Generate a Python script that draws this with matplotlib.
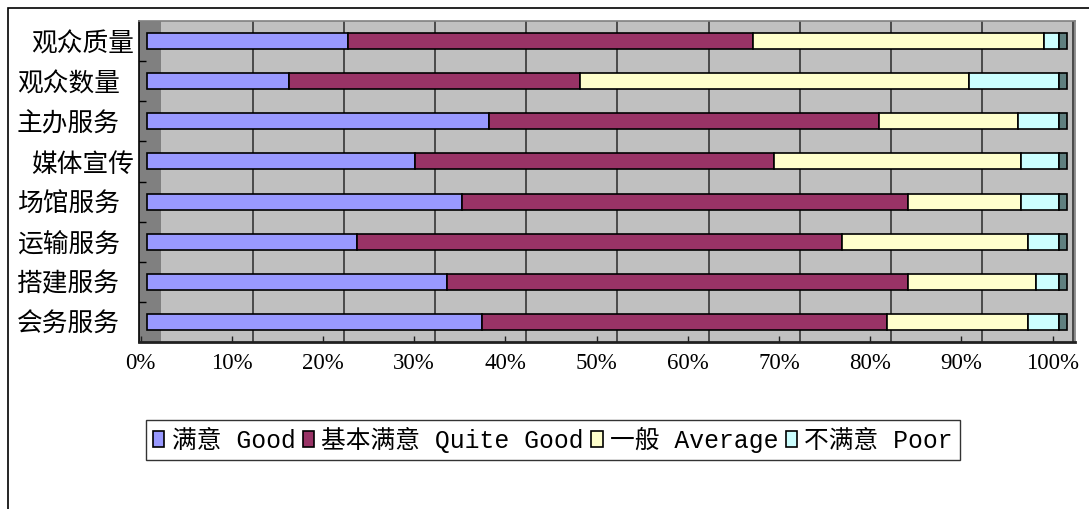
import matplotlib.pyplot as plt
import matplotlib.patches as mpatches
import matplotlib.transforms as mtransforms
from matplotlib.ticker import FixedLocator
import numpy as np

# categories from top to bottom
categories = ['观众质量', '观众数量', '主办服务', '媒体宣传',
              '场馆服务', '运输服务', '搭建服务', '会务服务']
good = [22.1, 15.6, 37.5, 29.4, 34.5, 23.0, 32.9, 36.8]
quite_good = [44.4, 31.9, 42.8, 39.4, 49.0, 53.2, 50.6, 44.4]
average = [31.9, 42.6, 15.2, 27.1, 12.4, 20.4, 14.0, 15.4]
poor = [1.6, 9.9, 4.5, 4.1, 4.1, 3.4, 2.5, 3.4]
series_names = ['满意 Good', '基本满意 Quite Good', '一般 Average', '不满意 Poor']
tick_labels = ['0%', '10%', '20%', '30%', '40%', '50%', '60%', '70%', '80%', '90%', '100%']

colors = ['#9999FF', '#993366', '#FFFFCC', '#CCFFFF']
cjk = 'Noto Sans CJK SC'

W, H = 1089, 509
fig = plt.figure(figsize=(W / 100, H / 100), dpi=100)

# outer chart frame (only top and left edges visible)
fig.patches.append(mpatches.Rectangle((8 / W, -0.5), 2.0, 1 - 8 / H + 0.5,
                                      transform=fig.transFigure, fill=False,
                                      edgecolor='black', linewidth=1.2))

# plot area in pixels
left, right, top, bottom = 139, 1075, 21, 342
ax = fig.add_axes([left / W, 1 - bottom / H, (right - left) / W, (bottom - top) / H])

x0 = 140.5            # pixel of 0%
scale = 912.0          # pixels per 100%
ax.set_xlim((left - x0) / scale, (right - x0) / scale)
ax.set_ylim(len(categories) - 0.5, -0.5)

depth = 0.023          # back wall offset
bar_shift = 0.007
side = 0.009

ax.set_facecolor('#C0C0C0')
ax.axvspan((left - x0) / scale, depth, color='#808080', zorder=0.5, linewidth=0)
for k in range(1, 11):
    ax.axvline(k / 10 + depth, color='#404040', linewidth=1.3, zorder=1)

data = np.array([good, quite_good, average, poor])
fracs = data / data.sum(axis=0)
y = np.arange(len(categories))
cum = np.zeros(len(categories)) + bar_shift
for vals, name, c in zip(fracs, series_names, colors):
    ax.barh(y, vals, left=cum, height=0.4, color=c, edgecolor='black',
            linewidth=1.2, label=name, zorder=3)
    cum = cum + vals
# 3D end face of the bars
ax.barh(y, side, left=cum, height=0.4, color='#5F7F7F', edgecolor='black',
        linewidth=1.2, zorder=3)

# x axis
ax.set_xticks(np.arange(0, 1.01, 0.1))
ax.set_xticklabels(tick_labels, fontfamily='Liberation Serif', fontsize=16.5)
ax.tick_params(axis='x', direction='in', length=4, width=1, color='#202020', pad=8)

# y axis: ticks between categories, labels drawn as text
ax.set_yticks([])
ax.yaxis.set_minor_locator(FixedLocator(np.arange(0.5, len(categories) - 1, 1)))
ax.tick_params(axis='y', which='minor', direction='in', length=5, width=1, color='black')
label_right = [134, 120, 120, 134, 120, 120, 120, 120]
lab_tr = mtransforms.offset_copy(ax.get_yaxis_transform(), fig=fig, y=-3, units='dots')
for yi, name, xr in zip(y, categories, label_right):
    ax.text((xr - left) / (right - left), yi, name, transform=lab_tr,
            ha='right', va='center', fontsize=18.5, fontfamily=cjk)

for s in ['top', 'right']:
    ax.spines[s].set_color('#808080')
    ax.spines[s].set_linewidth(1.2)
ax.spines['left'].set_color('black')
ax.spines['left'].set_linewidth(1.2)
ax.spines['bottom'].set_color('#202020')
ax.spines['bottom'].set_linewidth(2)

leg = ax.legend(loc='center', bbox_to_anchor=(553 / W, 1 - 440 / H),
                bbox_transform=fig.transFigure, ncol=4, frameon=True,
                fancybox=False, shadow=False, edgecolor='black',
                prop={'family': ['Liberation Mono', cjk], 'size': 17.8},
                handlelength=0.45, handleheight=0.6, handletextpad=0.3,
                columnspacing=0.3, borderpad=0.3, borderaxespad=0)
leg.get_frame().set_linewidth(1.0)

fig.savefig('out.png', dpi=100)
